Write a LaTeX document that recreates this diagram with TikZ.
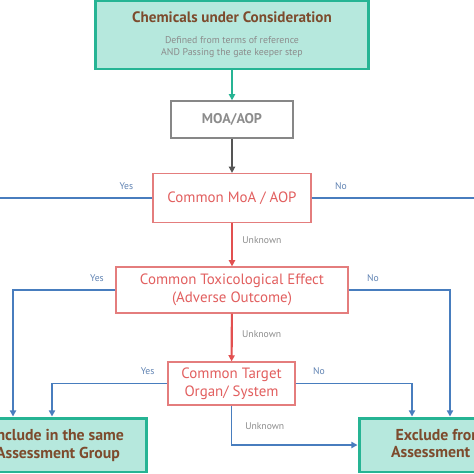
\documentclass[tikz,border=0pt]{standalone}
\usepackage{fontspec}
\setmainfont{PT Sans}
\usetikzlibrary{arrows.meta}
\definecolor{tealline}{RGB}{38,180,148}
\definecolor{tealfill}{RGB}{182,232,221}
\definecolor{brownt}{RGB}{125,75,45}
\definecolor{grayt}{RGB}{140,140,140}
\definecolor{grayline}{RGB}{135,135,135}
\definecolor{darkarrow}{RGB}{85,85,85}
\definecolor{redline}{RGB}{228,125,125}
\definecolor{redt}{RGB}{226,95,95}
\definecolor{redarrow}{RGB}{226,80,80}
\definecolor{blueline}{RGB}{72,125,190}
\definecolor{bluet}{RGB}{95,130,178}
\newcommand{\subline}[1]{{\fontsize{5.6}{6.3}\selectfont\mdseries\color{grayt}#1}}
\begin{document}
\begin{tikzpicture}[x=0.02cm, y=-0.02cm,
    endbox/.style={draw=tealline, line width=1.7pt, fill=tealfill, align=center, inner sep=0pt,
        text=brownt, font=\fontsize{9}{10.2}\selectfont\bfseries},
    gatebox/.style={draw=grayline, line width=0.8pt, fill=white, text=grayt, inner sep=0pt,
        font=\fontsize{8}{9}\selectfont\bfseries},
    askbox/.style={draw=redline, line width=0.7pt, fill=white, text=redt, align=center, inner sep=0pt,
        font=\fontsize{8.5}{10}\selectfont},
    tip/.style={-{Triangle[length=3.5pt,width=3.5pt]}},
    blueflow/.style={draw=blueline, line width=1pt},
    yesno/.style={text=bluet, font=\fontsize{5.5}{6}\selectfont},
    unk/.style={text=grayt, font=\fontsize{5.5}{6}\selectfont}]
    \useasboundingbox (0,0) rectangle (474,474);
    \clip (0,0) rectangle (474,474);

    % Start
    \node[endbox, minimum width=5.46cm, minimum height=1.38cm, font=\fontsize{8.6}{10}\selectfont\bfseries]
        (chem) at (232,34.5)
        {Chemicals under Consideration\\[2pt]
         \subline{Defined from terms of reference}\\[-3.5pt]
         \subline{AND Passing the gate keeper step}};
    \node[gatebox, minimum width=2.44cm, minimum height=0.74cm] (moaaop) at (232,119.5) {MOA/AOP};
    \draw[tip, draw=tealline, line width=1.2pt] (chem) -- (moaaop);

    % Questions
    \node[askbox, minimum width=3.16cm, minimum height=0.98cm] (moa) at (232,198) {Common MoA / AOP};
    \node[askbox, minimum width=4.64cm, minimum height=0.92cm] (tox) at (232,290)
        {Common Toxicological Effect\\(Adverse Outcome)};
    \node[askbox, minimum width=2.54cm, minimum height=0.86cm] (organ) at (231.5,383.5)
        {Common Target\\Organ/ System};
    \draw[tip, draw=darkarrow, line width=1.2pt] (moaaop) -- (moa);
    \draw[tip, draw=redarrow, line width=1.2pt] (moa) -- (tox)
        node[unk, pos=0.4, right=2pt] {Unknown};
    \draw[tip, draw=redarrow, line width=1.2pt] (tox) -- (organ)
        node[unk, pos=0.43, right=2pt] {Unknown};

    % Outcomes
    \node[endbox, minimum width=3.56cm, minimum height=1.08cm] (incl) at (58,445)
        {Include in the same\\Assessment Group};
    \node[endbox, minimum width=3.76cm, minimum height=1.08cm] (excl) at (453,445)
        {Exclude from the\\Assessment Group};

    % Yes / No branches
    \coordinate (moayes) at (-10,198);
    \coordinate (moano) at (484,198);
    \draw[blueflow] (moa.west) -- (moayes) node[yesno, pos=0.16, above=1pt] {Yes};
    \draw[blueflow] (moa.east) -- (moano) node[yesno, pos=0.17, above=1pt] {No};
    \draw[blueflow, tip] (tox.west) -| ([xshift=-0.9cm]incl.north)
        node[yesno, pos=0.09, above=1pt] {Yes};
    \draw[blueflow, tip] (tox.east) -| ([xshift=-0.06cm]excl.north)
        node[yesno, pos=0.12, above=1pt] {No};
    \draw[blueflow, tip] (organ.west) -| ([xshift=-0.12cm]incl.north)
        node[yesno, pos=0.086, above=1pt] {Yes};
    \draw[blueflow, tip] (organ.east) -| ([xshift=-0.82cm]excl.north)
        node[yesno, pos=0.1, above=1pt] {No};
    \draw[blueflow, tip] (organ.south) |- (excl.west)
        node[unk, pos=0.26, right=4pt] {Unknown};
\end{tikzpicture}
\end{document}
